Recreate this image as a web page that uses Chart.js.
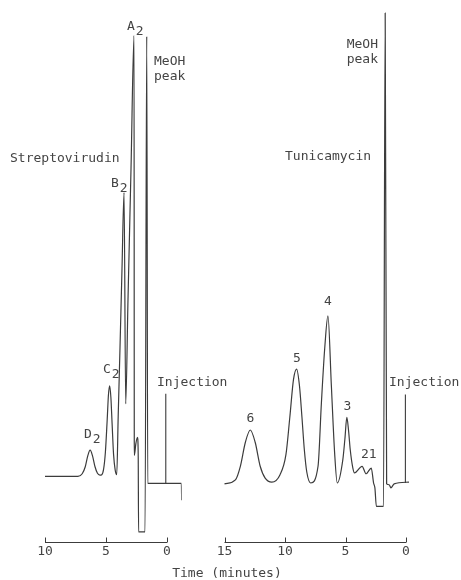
<!DOCTYPE html>
<html>
<head>
<meta charset="utf-8">
<script src="https://cdn.jsdelivr.net/npm/chart.js@4.4.0/dist/chart.umd.min.js"></script>
<style>
  body { margin: 0; background: #fff; }
  #wrap { position: relative; width: 461px; height: 580px; }
  canvas { position: absolute; top: 0; }
  #left { left: 0; }
  #right { left: 200px; }
  #xtitle { position: absolute; left: 0; width: 454px; top: 565px; text-align: center;
            font: 13px "DejaVu Sans Mono"; line-height: 15px; color: #444; }
</style>
</head>
<body>
<div id="wrap">
  <canvas id="left" width="230" height="580"></canvas>
  <canvas id="right" width="261" height="580"></canvas>
  <div id="xtitle">Time (minutes)</div>
</div>
<script>
var INK = '#3c3c3c';

// Streptovirudin run: retention time (min) and detector signal (arbitrary units)
var streptoTime = [10.0, 7.3, 6.95, 6.7, 6.5, 6.3, 6.1, 5.9, 5.7, 5.5, 5.35, 5.2, 5.05, 4.9, 4.8, 4.7, 4.6, 4.5, 4.38, 4.25,
  4.12, 4.0, 3.85, 3.69, 3.52, 3.385, 3.2, 2.95, 2.70, 2.68, 2.55, 2.42, 2.36, 2.33, 1.80, 1.66, 1.58, -1.18, -1.2];
var streptoSignal = [0, 0, 0.6, 2.2, 4.6, 5.95, 4.6, 2.2, 0.7, 0.3, 0.4, 1.6, 5.5, 13, 18.5, 20.6, 18, 12, 5, 1.5,
  0.4, 13.7, 29.5, 47, 64.5, 16.5, 39.8, 69.9, 100.2, 4.8, 7.5, 8.9, 5, -12.6, -12.6, 100, -1.6, -1.6, -5.4];
var streptoInjTime = [0.1, 0.1];
var streptoInjSignal = [-1.6, 18.8];
var streptoTicks = [10, 5, 0];

// Tunicamycin run
var tunicaTime = [15.0, 14.1, 13.69, 13.28, 12.87, 12.46, 12.05, 11.64, 11.09, 10.41, 9.92, 9.6, 9.3, 9.04, 8.8, 8.6,
  8.4, 8.2, 7.87, 7.27, 6.99, 6.72, 6.45, 6.17, 5.90, 5.68, 5.22, 5.05, 4.89, 4.75, 4.61, 4.4, 4.26, 3.63, 3.30,
  2.87, 2.68, 2.57, 2.45, 1.86, 1.72, 1.60, 1.39, 1.25, 0.98, -0.25];
var tunicaSignal = [-0.2, 0.7, 3.8, 9.2, 12.05, 9.2, 3.8, 1.1, 0.2, 1.9, 6.5, 15, 23.5, 25.9, 22, 15,
  7.5, 2.5, 0, 3.8, 18.3, 30.5, 38, 22.2, 6.9, 0, 5.3, 10, 14.9, 12, 7.6, 3.5, 2.3, 3.8, 2.1,
  3.4, 0, -1.1, -5.3, -5.3, 106.8, -0.2, -0.4, -1.1, -0.2, 0.2];
var tunicaInjTime = [0.05, 0.05];
var tunicaInjSignal = [0, 20.1];
var tunicaTicks = [15, 10, 5, 0];

function points(ts, ys) {
  return ts.map(function(t, i) { return { x: t, y: ys[i] }; });
}

// axis line with upward ticks, plus the text annotations
var tracePlugin = {
  id: 'trace',
  afterDraw: function(chart) {
    var o = chart.options.plugins.trace;
    var xs = chart.scales.x;
    var ctx = chart.ctx;
    var y0 = Math.round(chart.chartArea.bottom) + 0.5;
    ctx.save();
    ctx.strokeStyle = INK;
    ctx.lineWidth = 1;
    ctx.beginPath();
    ctx.moveTo(xs.getPixelForValue(o.from), y0);
    ctx.lineTo(xs.getPixelForValue(o.to), y0);
    o.ticks.forEach(function(v) {
      var px = Math.round(xs.getPixelForValue(v)) + 0.5;
      ctx.moveTo(px, y0);
      ctx.lineTo(px, y0 - 5);
    });
    ctx.stroke();

    ctx.font = '13px "DejaVu Sans Mono"';
    ctx.fillStyle = '#444';
    o.labels.forEach(function(l) {
      ctx.textAlign = l.align || 'left';
      ctx.fillText(l.text, l.x, l.y);
      if (l.sub) {
        var w = ctx.measureText(l.text).width;
        ctx.textAlign = 'left';
        ctx.fillText(l.sub, l.x + w + 1, l.y + 5);
      }
    });
    ctx.restore();
  }
};

function makeChart(id, trace, inj, xmin, xmax, ymin, ymax, pad, ticks, labels) {
  var ctx = document.getElementById(id).getContext('2d');
  return new Chart(ctx, {
    type: 'line',
    data: {
      datasets: [{
        data: trace,
        borderColor: INK,
        borderWidth: 1.2,
        pointRadius: 0,
        cubicInterpolationMode: 'monotone',
        fill: false
      }, {
        data: inj,
        borderColor: INK,
        borderWidth: 1.1,
        pointRadius: 0,
        tension: 0,
        fill: false
      }]
    },
    options: {
      responsive: false,
      animation: false,
      devicePixelRatio: 1,
      layout: { padding: pad },
      plugins: {
        legend: { display: false },
        tooltip: { enabled: false },
        trace: { from: ticks[0], to: 0, ticks: ticks, labels: labels }
      },
      scales: {
        x: {
          type: 'linear',
          reverse: true,
          min: xmin,
          max: xmax,
          grid: { display: false, drawTicks: false },
          border: { display: false },
          afterBuildTicks: function(s) {
            s.ticks = ticks.map(function(v) { return { value: v }; });
          },
          ticks: {
            color: '#444',
            padding: 1,
            maxRotation: 0,
            autoSkip: false,
            font: { family: 'DejaVu Sans Mono', size: 13 }
          }
        },
        y: { display: false, min: ymin, max: ymax }
      }
    },
    plugins: [tracePlugin]
  });
}

makeChart('left',
  points(streptoTime, streptoSignal),
  points(streptoInjTime, streptoInjSignal),
  -1.2, 10, -15, 106,
  { left: 45, right: 48.36, top: 10, bottom: 20 },
  streptoTicks,
  [
    { text: 'A', sub: '2', x: 127, y: 30 },
    { text: 'B', sub: '2', x: 111, y: 187 },
    { text: 'C', sub: '2', x: 103, y: 373 },
    { text: 'D', sub: '2', x: 84, y: 438 },
    { text: 'MeOH', x: 154, y: 65 },
    { text: 'peak', x: 154, y: 80 },
    { text: 'Streptovirudin', x: 10, y: 162 },
    { text: 'Injection', x: 157, y: 386 }
  ]);

makeChart('right',
  points(tunicaTime, tunicaSignal),
  points(tunicaInjTime, tunicaInjSignal),
  -0.3, 15.3, -13.5, 107.5,
  { left: 20.87, right: 51.37, top: 10, bottom: 20 },
  tunicaTicks,
  [
    { text: 'MeOH', x: 178, y: 48, align: 'right' },
    { text: 'peak', x: 178, y: 63, align: 'right' },
    { text: 'Tunicamycin', x: 85, y: 160 },
    { text: '4', x: 128, y: 305, align: 'center' },
    { text: '5', x: 97, y: 362, align: 'center' },
    { text: '6', x: 50.5, y: 422, align: 'center' },
    { text: '3', x: 147.5, y: 410, align: 'center' },
    { text: '21', x: 161, y: 458 },
    { text: 'Injection', x: 189, y: 386 }
  ]);
</script>
</body>
</html>
